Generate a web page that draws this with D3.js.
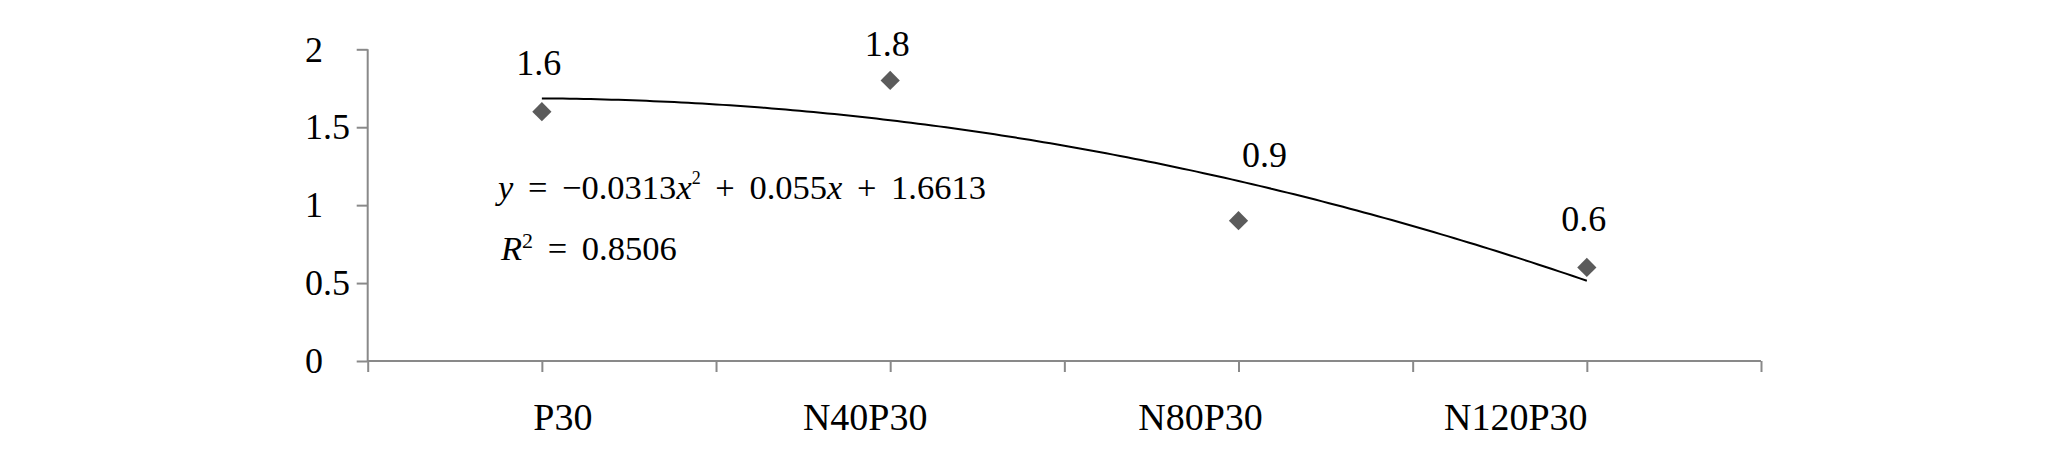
<!DOCTYPE html>
<html>
<head>
<meta charset="utf-8">
<script src="https://cdn.jsdelivr.net/npm/d3@7"></script>
<style>
  html, body { margin: 0; padding: 0; background: #fff; }
</style>
</head>
<body>
<svg id="chart" width="2067" height="452"></svg>
<script>
// ---- data ----
const categories = ["P30", "N40P30", "N80P30", "N120P30"];
const values = [1.6, 1.8, 0.9, 0.6];
const valueLabels = ["1.6", "1.8", "0.9", "0.6"];
const yTicks = [0, 0.5, 1, 1.5, 2];
const yTickLabels = ["0", "0.5", "1", "1.5", "2"];
const equationText = ["y", " = −0.0313", "x", "2", " + 0.055", "x", " + 1.6613"];
const r2Text = ["R", "2", " = 0.8506"];

// ---- label placement tweaks (style, not data) ----
const labelDx = [-3, -3, 26, -3];
const labelDy = [-37, -24, -54, -36];
const catDx = [21, -25, -38, -71];

(function () {
// pick an installed serif face
const cands = ["Liberation Serif", "Tinos", "Times New Roman", "Times", "DejaVu Serif", "Noto Serif", "FreeSerif", "Nimbus Roman", "Bitstream Vera Serif"];
const ctx = document.createElement("canvas").getContext("2d");
function w(f) { ctx.font = "40px " + f; return ctx.measureText("N40P30 abcdefghijklmWQ 0.0313").width; }
const baseM = w("monospace"), baseS = w("sans-serif");
let chosen = null;
for (const c of cands) {
  if (w(`"${c}", monospace`) !== baseM && w(`"${c}", sans-serif`) !== baseS) { chosen = c; break; }
}
const FONT = chosen ? `"${chosen}", serif` : "serif";

const svg = d3.select("#chart");
const pLeft = 367.7, pRight = 1761, pTop = 49.3, pBottom = 361;
const axisColor = "#898989";

const x = d3.scaleLinear().domain([0, categories.length]).range([pLeft, pRight]);
const y = d3.scaleLinear().domain([0, 2]).range([pBottom, pTop]);
const cx = i => x(i + 0.5);

// y axis
const yAxis = d3.axisLeft(y).tickValues(yTicks).tickSize(11).tickFormat("");
const gy = svg.append("g").attr("transform", `translate(${pLeft},0)`).call(yAxis);
gy.select(".domain").attr("stroke", axisColor).attr("stroke-width", 2).attr("d", `M0,${pTop}V${pBottom}`);
gy.selectAll(".tick line").attr("stroke", axisColor).attr("stroke-width", 2);

svg.append("g").selectAll("text").data(yTicks).join("text")
  .style("font-family", FONT)
  .attr("x", 305).attr("y", d => y(d)).attr("dy", "0.34em")
  .attr("text-anchor", "start").attr("font-size", 36)
  .text((d, i) => yTickLabels[i]);

// x axis
const xTickVals = d3.range(0, categories.length + 0.01, 0.5);
const xAxis = d3.axisBottom(x).tickValues(xTickVals).tickSize(11).tickFormat("");
const gx = svg.append("g").attr("transform", `translate(0,${pBottom})`).call(xAxis);
gx.select(".domain").attr("stroke", axisColor).attr("stroke-width", 2).attr("d", `M${pLeft},0H${pRight}`);
gx.selectAll(".tick line").attr("stroke", axisColor).attr("stroke-width", 2);

svg.append("g").selectAll("text").data(categories).join("text")
  .style("font-family", FONT)
  .attr("x", (d, i) => cx(i) + catDx[i]).attr("y", 430)
  .attr("text-anchor", "middle").attr("font-size", 38)
  .text(d => d);

// polynomial (order 2) trendline, least squares on series index 1..n
function polyFit2(xs, ys) {
  const n = xs.length;
  const s = [0, 0, 0, 0, 0], t = [0, 0, 0];
  for (let k = 0; k < n; k++) {
    for (let p = 0; p < 5; p++) s[p] += Math.pow(xs[k], p);
    for (let p = 0; p < 3; p++) t[p] += Math.pow(xs[k], p) * ys[k];
  }
  const A = [[s[0], s[1], s[2], t[0]], [s[1], s[2], s[3], t[1]], [s[2], s[3], s[4], t[2]]];
  for (let c = 0; c < 3; c++) {
    for (let r = c + 1; r < 3; r++) {
      const f = A[r][c] / A[c][c];
      for (let k = c; k < 4; k++) A[r][k] -= f * A[c][k];
    }
  }
  const coef = [0, 0, 0];
  for (let r = 2; r >= 0; r--) {
    let v = A[r][3];
    for (let k = r + 1; k < 3; k++) v -= A[r][k] * coef[k];
    coef[r] = v / A[r][r];
  }
  return coef; // c0 + c1 x + c2 x^2
}
const idx = values.map((d, i) => i + 1);
const coef = polyFit2(idx, values);
const fitPts = d3.range(1, categories.length + 0.001, 0.02).map(t => [t, coef[0] + coef[1] * t + coef[2] * t * t]);
svg.append("path")
  .attr("d", d3.line().x(d => x(d[0] - 0.5)).y(d => y(d[1]))(fitPts))
  .attr("fill", "none").attr("stroke", "#000").attr("stroke-width", 2);

// markers (diamonds)
const sym = d3.symbol().type(d3.symbolSquare).size(185);
svg.append("g").selectAll("path").data(values).join("path")
  .attr("d", sym)
  .attr("transform", (d, i) => `translate(${cx(i)},${y(d)}) rotate(45)`)
  .attr("fill", "#5b5b5b");

// data labels
svg.append("g").selectAll("text").data(values).join("text")
  .style("font-family", FONT)
  .attr("x", (d, i) => cx(i) + labelDx[i]).attr("y", (d, i) => y(d) + labelDy[i])
  .attr("text-anchor", "middle").attr("font-size", 36)
  .text((d, i) => valueLabels[i]);

// equation
const eq = svg.append("text").style("font-family", FONT).attr("x", 498).attr("y", 199).attr("font-size", 34.5).attr("word-spacing", 6).attr("xml:space", "preserve");
eq.append("tspan").attr("font-style", "italic").text(equationText[0]);
eq.append("tspan").text(equationText[1]);
eq.append("tspan").attr("font-style", "italic").text(equationText[2]);
eq.append("tspan").attr("font-size", 18).attr("dy", -15).text(equationText[3]);
eq.append("tspan").attr("dy", 15).text(equationText[4]);
eq.append("tspan").attr("font-style", "italic").text(equationText[5]);
eq.append("tspan").text(equationText[6]);

const r2 = svg.append("text").style("font-family", FONT).attr("x", 501).attr("y", 260).attr("font-size", 34.5).attr("word-spacing", 6).attr("xml:space", "preserve");
r2.append("tspan").attr("font-style", "italic").text(r2Text[0]);
r2.append("tspan").attr("font-size", 22).attr("dy", -12).text(r2Text[1]);
r2.append("tspan").attr("dy", 12).text(r2Text[2]);
})();
</script>
</body>
</html>
